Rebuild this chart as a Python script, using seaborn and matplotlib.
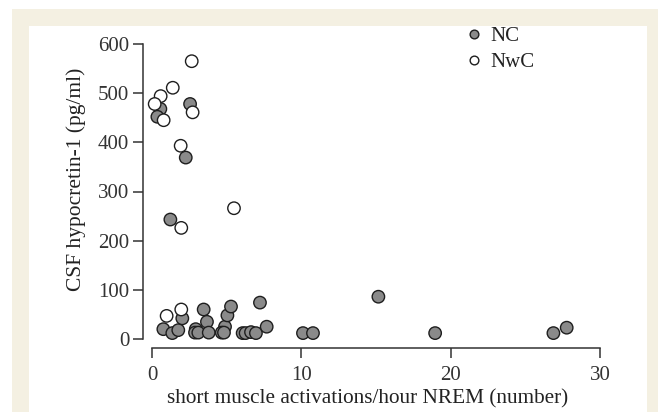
import matplotlib
matplotlib.use("Agg")
import matplotlib.pyplot as plt
from matplotlib.patches import Rectangle
import seaborn as sns
import pandas as pd

# Narcolepsy without cataplexy (open markers)
nwc_x = [2.66, 1.39, 0.58, 0.18, 0.78, 2.72, 1.92, 5.49, 1.96, 0.98, 1.96]
nwc_y = [565, 511, 494, 478, 445, 461, 393, 266, 226, 47, 60]

# Narcolepsy with cataplexy (filled markers)
nc_x = [0.56, 0.36, 2.55, 2.26, 1.23, 0.76, 1.36, 1.76, 2.03, 3.46, 2.93, 2.88,
        3.10, 3.68, 3.80, 4.89, 4.67, 4.82, 5.05, 5.29, 6.07, 6.27, 6.63, 6.96,
        7.23, 7.68, 10.11, 10.78, 15.16, 18.96, 26.88, 27.77]
nc_y = [468, 452, 478, 369, 243, 20, 12, 18, 42, 60, 20, 13,
        13, 35, 13, 25, 13, 13, 48, 66, 12, 12, 14, 12,
        74, 25, 12, 12, 86, 12, 12, 23]

groups = ["NC", "NwC"]
x_ticks = [0, 10, 20, 30]
y_ticks = [0, 100, 200, 300, 400, 500, 600]
x_label = "short muscle activations/hour NREM (number)"
y_label = "CSF hypocretin-1 (pg/ml)"

df = pd.DataFrame({
    "x": nc_x + nwc_x,
    "y": nc_y + nwc_y,
    "group": [groups[0]] * len(nc_x) + [groups[1]] * len(nwc_x),
})

sns.set_theme(style="ticks")
plt.rcParams["font.family"] = ["Liberation Serif", "DejaVu Serif"]
plt.rcParams["text.color"] = "#222222"
plt.rcParams["axes.labelcolor"] = "#222222"
plt.rcParams["xtick.color"] = "#333333"
plt.rcParams["ytick.color"] = "#333333"

W, H = 658, 412
fig = plt.figure(figsize=(W / 100, H / 100), dpi=100, facecolor="white")

# Page-style frame: beige border around a white panel
fig.patches.append(Rectangle((12 / W, -0.02), 646 / W, (H - 9) / H + 0.02,
                             transform=fig.transFigure, facecolor="#f4f0e2",
                             edgecolor="none", zorder=-2))
fig.patches.append(Rectangle((29 / W, -0.02), (647 - 29) / W, (H - 26) / H + 0.02,
                             transform=fig.transFigure, facecolor="white",
                             edgecolor="none", zorder=-1))

ax = fig.add_axes([152 / W, 1 - 339 / H, (600 - 152) / W, (339 - 44) / H])
ax.set_facecolor("none")

sns.scatterplot(data=df, x="x", y="y", hue="group", hue_order=groups,
                palette={"NC": "#8a8a8a", "NwC": "white"},
                edgecolor="#1e1e1e", linewidth=1.0, s=80, ax=ax,
                clip_on=False, zorder=3)

ax.set_xlim(0, 30)
ax.set_ylim(0, 600)
ax.set_xticks(x_ticks)
ax.set_yticks(y_ticks)
ax.tick_params(axis="both", labelsize=15, length=7.5, width=1.1)
ax.tick_params(axis="y", pad=2)
ax.tick_params(axis="x", pad=5.5)
ax.set_xlabel(x_label, fontsize=15.3, labelpad=3)
ax.set_ylabel(y_label, fontsize=15.5, labelpad=9)
ax.xaxis.label.set_x(0.482)
ax.yaxis.label.set_y(0.54)

sns.despine(ax=ax, offset=6.8, trim=True)
for side in ("left", "bottom"):
    ax.spines[side].set_linewidth(1.1)
    ax.spines[side].set_color("#333333")

leg = ax.legend(frameon=False, loc="center left",
                bbox_to_anchor=(453 / W, 1 - 49.5 / H), bbox_transform=fig.transFigure,
                fontsize=15, markerscale=0.7, handletextpad=0.3,
                labelspacing=0.3, borderpad=0, handlelength=1.0)
for h in leg.legend_handles:
    h.set_markeredgecolor("#1e1e1e")
    h.set_markeredgewidth(1.0)

fig.savefig("out.png", dpi=100, facecolor="white")
